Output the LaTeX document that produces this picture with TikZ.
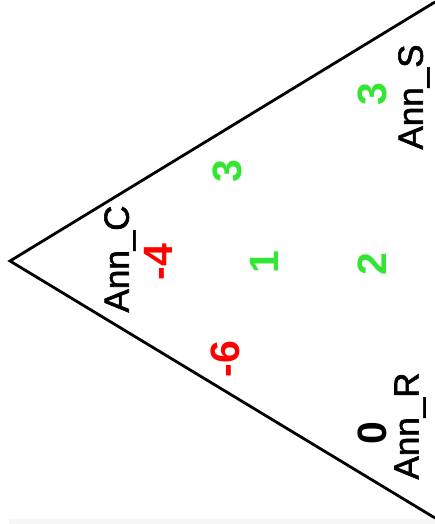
\documentclass[tikz,border=0pt]{standalone}
\usepackage{fontspec}
\setmainfont{Liberation Sans}
\newfontfamily\annfont[FakeBold=1.6]{Liberation Sans}
\usepackage{xcolor}
\usetikzlibrary{positioning}
\definecolor{annred}{HTML}{FF0000}
\definecolor{anngreen}{HTML}{33E633}
\definecolor{annstrip}{HTML}{F7F7F7}

\begin{document}
\begin{tikzpicture}[
  x=1pt,y=-1pt,
  every node/.style={inner sep=0pt,rotate=90,font=\fontsize{41}{48}\selectfont\bfseries},
  setname/.style={text=black,font=\fontsize{35}{42}\annfont},
  negval/.style={text=annred},
  posval/.style={text=anngreen},
  zeroval/.style={text=black},
  border/.style={line width=2.8pt,draw=black,line cap=round}
]
\useasboundingbox (0,0) rectangle (435,524);
\fill[annstrip] (9,519) rectangle (435,524);
% outline
\coordinate (apex) at (10,261);
\coordinate (upper) at (435,2);
\coordinate (lower) at (435,518);
\draw[border] (upper) -- (apex) -- (lower);
% set names
\node[setname] (annC) at (120,259) {Ann\_C};
\node[setname] (annS) at (414,97) {Ann\_S};
\node[setname] (annR) at (410,426) {Ann\_R};
% region values
\node[negval] (vC) at (158,262) {-4};
\node[negval] (vCR) at (225,359) {-6};
\node[posval] (vCS) at (227,171) {3};
\node[posval] (vCSR) at (264,262) {1};
\node[posval] (vSR) at (372,264) {2};
\node[posval] (vS) at (372,94) {3};
\node[zeroval] (vR) at (372,433) {0};
\end{tikzpicture}
\end{document}
